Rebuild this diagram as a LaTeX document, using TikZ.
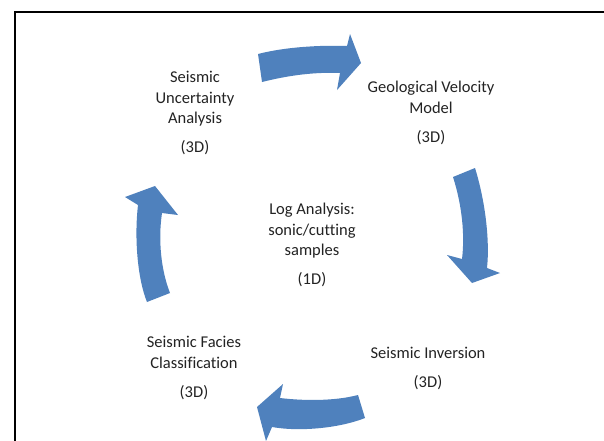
\documentclass[tikz,border=0pt]{standalone}
\usepackage{fontspec}
\setmainfont{Carlito}[Ligatures=NoCommon]
\definecolor{arrowblue}{RGB}{79,129,189}
\definecolor{txtgray}{RGB}{35,35,35}
\begin{document}
\begin{tikzpicture}[x=1pt,y=-1pt,
  cyc/.style={fill=arrowblue,draw=none},
  lbl/.style={align=center,inner sep=0pt,text=txtgray,font=\fontsize{16.5}{20.5}\selectfont}]
\useasboundingbox (0,0) rectangle (604,440);
\fill[white] (0,0) rectangle (604,440);
\draw[line width=2pt] (15,446) -- (15,12) -- (610,12);

% top arrow
\fill[cyc] (258,54) .. controls (285,47) and (320,45) .. (347,46) -- (350,34) -- (361,63) -- (337,90) -- (340,73) .. controls (315,72) and (290,75) .. (262,82) -- cycle;
% right arrow
\fill[cyc] (475,168) .. controls (485,200) and (490,240) .. (487,268) -- (500,273) -- (472,283) -- (447,255) -- (462,259) .. controls (465,235) and (462,205) .. (453,177) -- cycle;
% bottom arrow
\fill[cyc] (358,395) .. controls (335,401) and (305,401) .. (280,398) -- (283,384) -- (257,407) -- (266,441) -- (272,427) .. controls (300,432) and (340,428) .. (365,418) -- cycle;
% left arrow
\fill[cyc] (147,302) .. controls (138,280) and (134,240) .. (138,205) -- (125,197) -- (155,186) -- (178,215) -- (162,213) .. controls (158,240) and (161,270) .. (170,293) -- cycle;

\node[lbl] (sua) at (195,113) {Seismic\\Uncertainty\\Analysis\\[8.5pt](3D)};
\node[lbl] (gvm) at (431,113) {Geological Velocity\\Model\\[8.5pt](3D)};
\node[lbl] (log) at (312,245) {Log Analysis:\\sonic/cutting\\samples\\[8.5pt](1D)};
\node[lbl] (inv) at (428,368) {Seismic Inversion\\[8.5pt](3D)};
\node[lbl] (fac) at (194,368) {Seismic Facies\\Classification\\[8.5pt](3D)};
\end{tikzpicture}
\end{document}
